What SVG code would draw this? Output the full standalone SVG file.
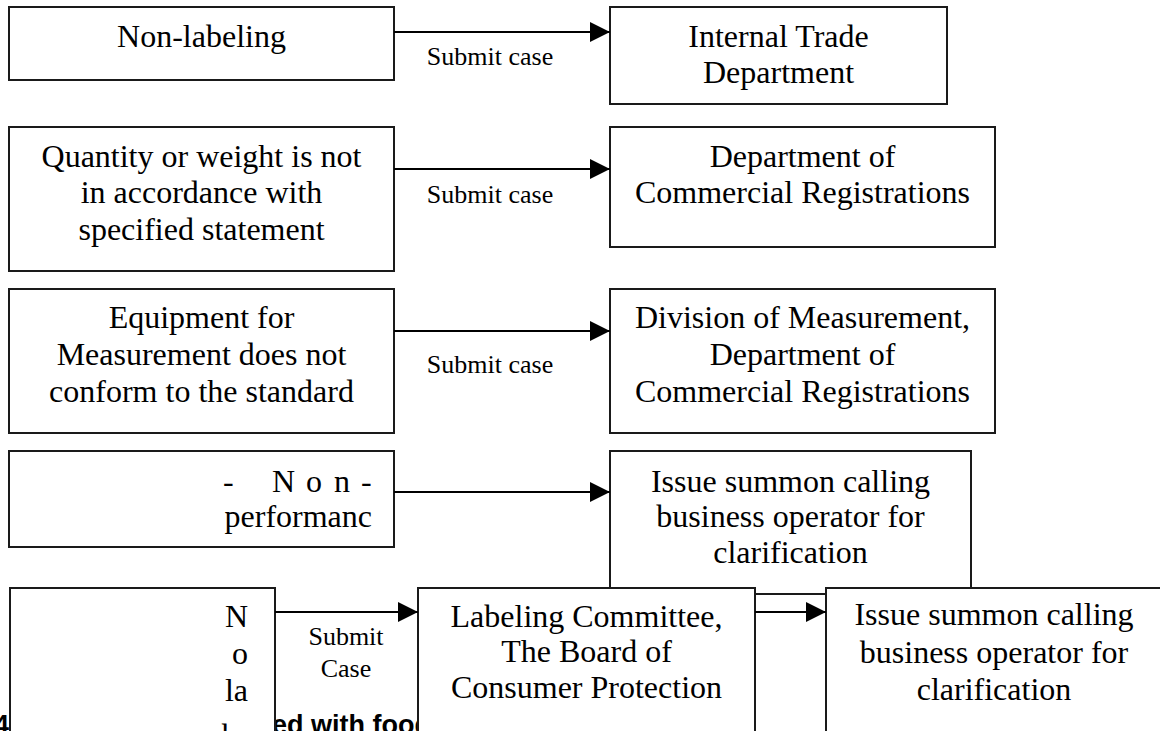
<svg xmlns="http://www.w3.org/2000/svg" width="1160" height="731" viewBox="0 0 1160 731">
<style>
.box{fill:#fff;stroke:#1a1a1a;stroke-width:2}
.t{font-family:"Liberation Serif","Times New Roman",serif;font-size:32px;fill:#000;text-anchor:middle}
.lbl{font-family:"Liberation Serif","Times New Roman",serif;font-size:26px;fill:#000;text-anchor:middle}
.cap{font-family:"Liberation Sans",Arial,sans-serif;font-size:27px;font-weight:bold;fill:#000}
.edge{stroke:#000;stroke-width:2;fill:none}
</style>
<defs>
<marker id="ah" markerWidth="20" markerHeight="20" viewBox="0 0 20 20" refX="20" refY="10" orient="auto" markerUnits="userSpaceOnUse">
<path d="M0,0 L20,10 L0,20 Z" fill="#000"/>
</marker>
</defs>
<rect width="1160" height="731" fill="#fff"/>

<g id="caption">
<text class="cap" x="9" y="734" text-anchor="end">4</text>
<text class="cap" x="272" y="734">ed with food</text>
</g>

<g id="n1">
<rect class="box" x="9" y="7" width="385" height="73"/>
<text class="t" x="201.5" y="47">Non-labeling</text>
</g>
<g id="n2">
<rect class="box" x="610" y="7" width="337" height="97"/>
<text class="t" x="778.5" y="47">Internal Trade</text>
<text class="t" x="778.5" y="83">Department</text>
</g>
<g id="n3">
<rect class="box" x="9" y="127" width="385" height="144"/>
<text class="t" x="201.5" y="167">Quantity or weight is not</text>
<text class="t" x="201.5" y="203">in accordance with</text>
<text class="t" x="201.5" y="240">specified statement</text>
</g>
<g id="n4">
<rect class="box" x="610" y="127" width="385" height="120"/>
<text class="t" x="802.5" y="167">Department of</text>
<text class="t" x="802.5" y="203">Commercial Registrations</text>
</g>
<g id="n5">
<rect class="box" x="9" y="289" width="385" height="144"/>
<text class="t" x="201.5" y="328">Equipment for</text>
<text class="t" x="201.5" y="365">Measurement does not</text>
<text class="t" x="201.5" y="402">conform to the standard</text>
</g>
<g id="n6">
<rect class="box" x="610" y="289" width="385" height="144"/>
<text class="t" x="802.5" y="328">Division of Measurement,</text>
<text class="t" x="802.5" y="365">Department of</text>
<text class="t" x="802.5" y="402">Commercial Registrations</text>
</g>
<g id="n7">
<rect class="box" x="9" y="451" width="385" height="96"/>
<text class="t" style="text-anchor:start" x="223 272 306 334 361" y="492">-Non-</text>
<text class="t" style="text-anchor:end" x="372" y="527">performanc</text>
</g>
<g id="n8">
<rect class="box" x="610" y="451" width="361" height="143"/>
<text class="t" x="790.5" y="492">Issue summon calling</text>
<text class="t" x="790.5" y="527">business operator for</text>
<text class="t" x="790.5" y="563">clarification</text>
</g>
<g id="n9">
<rect class="box" x="10" y="588" width="265" height="170"/>
<text class="t" style="text-anchor:end" x="248" y="627">N</text>
<text class="t" style="text-anchor:end" x="248" y="664">o</text>
<text class="t" style="text-anchor:end" x="248" y="701">la</text>
<text class="t" style="text-anchor:end" x="252" y="746">be</text>
</g>
<g id="n10">
<rect class="box" x="418" y="588" width="337" height="170"/>
<text class="t" x="586.5" y="627">Labeling Committee,</text>
<text class="t" x="586.5" y="662">The Board of</text>
<text class="t" x="586.5" y="698">Consumer Protection</text>
</g>
<g id="n11">
<rect class="box" x="826" y="588" width="340" height="170"/>
<text class="t" x="994" y="625">Issue summon calling</text>
<text class="t" x="994" y="663">business operator for</text>
<text class="t" x="994" y="700">clarification</text>
</g>

<g id="connectors">
<line class="edge" x1="394" y1="32" x2="610" y2="32" marker-end="url(#ah)"/>
<text class="lbl" x="490" y="65">Submit case</text>
<line class="edge" x1="394" y1="169" x2="610" y2="169" marker-end="url(#ah)"/>
<text class="lbl" x="490" y="203">Submit case</text>
<line class="edge" x1="394" y1="331" x2="610" y2="331" marker-end="url(#ah)"/>
<text class="lbl" x="490" y="373">Submit case</text>
<line class="edge" x1="394" y1="492" x2="610" y2="492" marker-end="url(#ah)"/>
<line class="edge" x1="275" y1="612" x2="418" y2="612" marker-end="url(#ah)"/>
<text class="lbl" x="346" y="645">Submit</text>
<text class="lbl" x="346" y="677">Case</text>
<line class="edge" x1="755" y1="612" x2="826" y2="612" marker-end="url(#ah)"/>
</g>
</svg>
